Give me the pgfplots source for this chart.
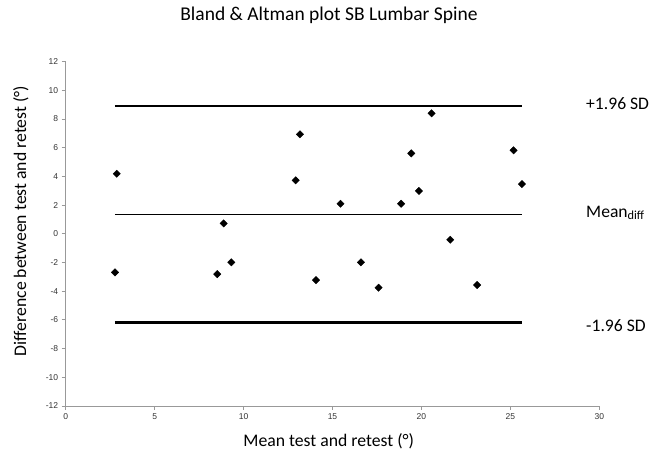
\documentclass[border=0pt]{standalone}
\usepackage{fontspec}
\setmainfont{Carlito}
\newfontfamily\arialfont{Liberation Sans}
\usepackage{pgfplots}
\pgfplotsset{compat=1.18}
\begin{document}
\begin{tikzpicture}[x=1pt,y=1pt]
\path[use as bounding box] (0,0) rectangle (651,458);
\begin{axis}[
  at={(65.7pt,52pt)}, anchor=south west,
  scale only axis, width=533.6pt, height=344.5pt,
  xmin=0, xmax=30, ymin=-12, ymax=12,
  xtick={0,5,...,30}, ytick={-12,-10,...,12},
  axis lines=left,
  axis line style={-, draw=black!40, line width=0.8pt},
  tick align=outside, major tick length=4pt,
  tick style={draw=black!40, line width=0.8pt},
  ticklabel style={font=\arialfont\fontsize{8.5}{10}\selectfont, text=black!80},
  /pgf/number format/assume math mode=true,
  clip=false,
]
\addplot[line width=2.5pt, black] coordinates {(2.77,8.90) (25.65,8.90)};
\addplot[line width=1pt, black] coordinates {(2.77,1.37) (25.65,1.37)};
\addplot[line width=2.5pt, black] coordinates {(2.77,-6.20) (25.65,-6.20)};
\addplot[only marks, mark=square*, mark size=2.6pt,
  mark options={rotate=45, fill=black, draw=black}] table {
x y
2.87 4.18
2.77 -2.69
13.17 6.93
12.93 3.72
15.45 2.09
8.88 0.72
9.31 -1.99
8.52 -2.81
14.07 -3.23
20.57 8.39
19.43 5.60
25.18 5.81
25.65 3.46
19.86 2.98
18.86 2.09
21.62 -0.42
16.60 -1.99
17.59 -3.76
23.13 -3.57
};
\end{axis}
\node[font=\fontsize{19.5}{22}\selectfont, anchor=base] at (329,437.3) {Bland \& Altman plot SB Lumbar Spine};
\node[font=\fontsize{17.7}{20}\selectfont, rotate=90] at (21,237) {Difference between test and retest (°)};
\node[font=\fontsize{17.7}{20}\selectfont] at (328.7,17) {Mean test and retest (°)};
\node[font=\fontsize{17.6}{20}\selectfont, anchor=base west, inner sep=0pt] at (586,348.7) {+1.96 SD};
\node[font=\fontsize{17.6}{20}\selectfont, anchor=base west, inner sep=0pt] at (586,240.7) {Mean\textsubscript{diff}};
\node[font=\fontsize{17.6}{20}\selectfont, anchor=base west, inner sep=0pt] at (586,126.3) {-1.96 SD};
\end{tikzpicture}
\end{document}
